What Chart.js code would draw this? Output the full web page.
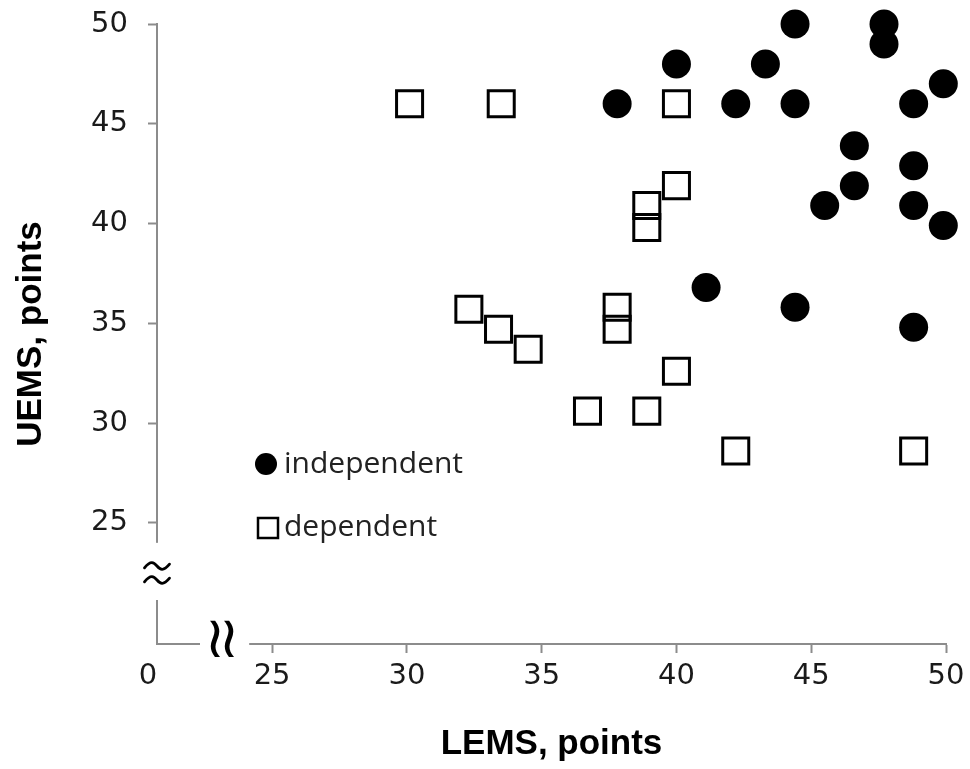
<!DOCTYPE html>
<html>
<head>
<meta charset="utf-8">
<script src="https://cdn.jsdelivr.net/npm/chart.js@4.4.1/dist/chart.umd.min.js"></script>
<style>
  html, body { margin: 0; padding: 0; background: #ffffff; }
  #wrap { width: 970px; height: 769px; }
</style>
</head>
<body>
<div id="wrap"><canvas id="c" width="970" height="769"></canvas></div>
<script>
// ---- data ----
const xTickValues = [25, 30, 35, 40, 45, 50];
const yTickValues = [25, 30, 35, 40, 45, 50];
const originLabel = '0';

const independentLEMS = [44.4, 47.7, 47.7, 40.0, 43.3, 37.8, 42.2, 44.4, 48.8, 49.9, 46.6, 48.8, 46.6, 45.5, 48.8, 49.9, 41.1, 44.4, 48.8];
const independentUEMS = [50.0, 50.0, 49.0, 48.0, 48.0, 46.0, 46.0, 46.0, 46.0, 47.0, 43.9, 42.9, 41.9, 40.9, 40.9, 39.9, 36.8, 35.8, 34.8];

const dependentLEMS = [30.1, 33.5, 40.0, 40.0, 38.9, 38.9, 32.3, 33.4, 34.5, 37.8, 37.8, 40.0, 36.7, 38.9, 42.2, 48.8];
const dependentUEMS = [46.0, 46.0, 46.0, 41.9, 40.9, 39.8, 35.7, 34.7, 33.7, 35.8, 34.7, 32.6, 30.6, 30.6, 28.6, 28.6];

const seriesLabels = ['independent', 'dependent'];

const toPoints = (xs, ys) => xs.map((x, i) => ({ x: x, y: ys[i] }));

const AXIS_GRAY = '#8c8c8c';
const TICK_FONT = { family: 'DejaVu Sans', size: 29 };
const TITLE_FONT = { family: 'Liberation Sans', size: 35, weight: 'bold' };

// plugin: axis breaks, origin label and in-plot legend
const extras = {
  id: 'extras',
  afterDraw(chart) {
    const ctx = chart.ctx;
    const ca = chart.chartArea;
    const xs = chart.scales.x, ys = chart.scales.y;
    const yBottom = ys.getPixelForValue(24);     // visible end of upper y axis
    const xStart = xs.getPixelForValue(24.15);   // visible start of x axis
    ctx.save();
    // gaps in the axis lines
    ctx.fillStyle = '#ffffff';
    ctx.fillRect(ca.left - 6, yBottom, 12, 600 - yBottom);
    ctx.fillRect(ca.left + 43, ca.bottom - 5, xStart - ca.left - 43, 10);
    // y break symbol (two tildes)
    ctx.strokeStyle = '#000';
    ctx.lineWidth = 2.8;
    ctx.lineCap = 'round';
    const tildeH = (cx, cy, w, a) => {
      ctx.beginPath();
      ctx.moveTo(cx - w / 2, cy + a * 0.4);
      ctx.bezierCurveTo(cx - w / 4, cy - a * 1.3, cx - w / 8, cy - a * 0.8, cx, cy);
      ctx.bezierCurveTo(cx + w / 8, cy + a * 0.8, cx + w / 4, cy + a * 1.3, cx + w / 2, cy - a * 0.4);
      ctx.stroke();
    };
    tildeH(ca.left, 566, 25, 4.5);
    tildeH(ca.left, 580, 25, 4.5);
    // x break symbol (two wreath glyphs)
    ctx.fillStyle = '#000';
    ctx.font = '58px "DejaVu Sans"';
    ctx.textAlign = 'center';
    ctx.textBaseline = 'middle';
    ctx.fillText('\u2240', ca.left + 58, ca.bottom - 2);
    ctx.fillText('\u2240', ca.left + 72, ca.bottom - 2);

    // origin label "0" on the tick-label row
    const items = xs.getLabelItems();
    if (items.length) {
      const o = items[0].options;
      ctx.font = `${TICK_FONT.size}px "${TICK_FONT.family}"`;
      ctx.fillStyle = '#1a1a1a';
      ctx.textAlign = 'center';
      ctx.textBaseline = 'middle';
      ctx.fillText(originLabel, ca.left - 9, o.translation[1] + TICK_FONT.size * 1.2 / 2);
    }

    // legend inside the plot
    const d0 = chart.data.datasets[0], d1 = chart.data.datasets[1];
    ctx.fillStyle = d0.backgroundColor;
    ctx.beginPath();
    ctx.arc(266, 464, 11, 0, Math.PI * 2);
    ctx.fill();
    ctx.strokeStyle = d1.borderColor;
    ctx.lineWidth = 2.5;
    ctx.lineCap = 'butt';
    ctx.strokeRect(258, 518, 20, 20);
    ctx.font = '30px "Open Sans"';
    ctx.fillStyle = '#222';
    ctx.textAlign = 'left';
    ctx.textBaseline = 'alphabetic';
    ctx.fillText(d0.label, 284, 473);
    ctx.fillText(d1.label, 284, 536);
    ctx.restore();
  }
};

new Chart(document.getElementById('c'), {
  type: 'scatter',
  data: {
    datasets: [
      {
        label: seriesLabels[0],
        data: toPoints(independentLEMS, independentUEMS),
        pointStyle: 'circle',
        pointRadius: 14.5,
        backgroundColor: '#000000',
        borderColor: '#000000',
        borderWidth: 0,
        clip: false
      },
      {
        label: seriesLabels[1],
        data: toPoints(dependentLEMS, dependentUEMS),
        pointStyle: 'rect',
        pointRadius: 18.4,
        backgroundColor: 'rgba(0,0,0,0)',
        borderColor: '#000000',
        borderWidth: 3,
        clip: false
      }
    ]
  },
  options: {
    responsive: false,
    animation: false,
    events: [],
    layout: { padding: { top: 24, right: 24, left: 0, bottom: 0 } },
    plugins: { legend: { display: false }, tooltip: { enabled: false } },
    scales: {
      x: {
        type: 'linear',
        min: 20.73,
        max: 50,
        afterBuildTicks: s => { s.ticks = xTickValues.map(v => ({ value: v })); },
        afterFit: s => { s.height = 125; s.paddingLeft = 0; s.paddingRight = 0; },
        ticks: { font: TICK_FONT, color: '#1a1a1a', padding: 6, maxRotation: 0, autoSkip: false },
        grid: { drawOnChartArea: false, drawTicks: true, tickLength: 9, tickWidth: 2, tickColor: AXIS_GRAY },
        border: { display: true, color: AXIS_GRAY, width: 2 },
        title: { display: true, text: 'LEMS, points', font: TITLE_FONT, color: '#000', padding: { top: 0, bottom: 4 } }
      },
      y: {
        type: 'linear',
        min: 18.93,
        max: 50,
        afterBuildTicks: s => { s.ticks = yTickValues.map(v => ({ value: v })); },
        afterFit: s => { s.width = 157; s.paddingTop = 0; s.paddingBottom = 0; },
        ticks: { font: TICK_FONT, color: '#1a1a1a', padding: 20, autoSkip: false },
        grid: { drawOnChartArea: false, drawTicks: true, tickLength: 9, tickWidth: 2, tickColor: AXIS_GRAY },
        border: { display: true, color: AXIS_GRAY, width: 2 },
        title: { display: true, text: 'UEMS, points', font: TITLE_FONT, color: '#000', padding: { top: 10, bottom: 0 } }
      }
    }
  },
  plugins: [extras]
});
</script>
</body>
</html>
